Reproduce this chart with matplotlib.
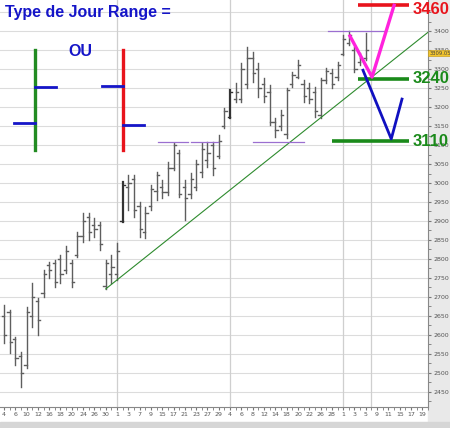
import matplotlib
matplotlib.use("Agg")
import matplotlib.pyplot as plt
from matplotlib.patches import Rectangle
import matplotlib.transforms as mtransforms

# ---------------- Data ----------------
highs = [2679, 2666, 2595, 2555, 2674, 2737, 2697, 2771, 2792, 2797,
         2810, 2834, 2797, 2871, 2921, 2921, 2908, 2897, 2797, 2810,
         2842, 3003, 3021, 3021, 2950, 2937, 2995, 3029, 3008, 3055,
         3105, 3087, 3008, 3026, 3061, 3105, 3108, 3108, 3126, 3197,
         3245, 3263, 3316, 3358, 3345, 3316, 3276, 3258, 3171, 3192,
         3250, 3292, 3324, 3271, 3263, 3253, 3276, 3303, 3300, 3318,
         3390, 3400, 3358, 3342, 3395]
lows = [2579, 2553, 2521, 2463, 2513, 2621, 2600, 2700, 2750, 2726,
        2737, 2763, 2726, 2805, 2845, 2850, 2858, 2824, 2721, 2737,
        2745, 2897, 2929, 2911, 2858, 2855, 2929, 2955, 2961, 2968,
        3034, 2963, 2903, 2961, 2982, 3016, 3042, 3021, 3066, 3145,
        3171, 3213, 3213, 3250, 3266, 3226, 3213, 3153, 3121, 3139,
        3118, 3253, 3276, 3213, 3210, 3174, 3171, 3263, 3250, 3271,
        3337, 3363, 3292, 3311, 3324]
opens = [2650, 2660, 2590, 2545, 2520, 2650, 2690, 2710, 2785, 2790,
         2800, 2770, 2790, 2810, 2860, 2910, 2890, 2890, 2730, 2760,
         2760, 2900, 2990, 3010, 2940, 2870, 2940, 2980, 2990, 2975,
         3040, 3080, 2990, 2970, 2990, 3030, 3060, 3100, 3070, 3150,
         3175, 3220, 3220, 3260, 3330, 3300, 3260, 3240, 3160, 3150,
         3130, 3260, 3280, 3260, 3250, 3240, 3180, 3270, 3290, 3280,
         3340, 3370, 3350, 3320, 3330]
closes = [2600, 2580, 2540, 2500, 2660, 2700, 2640, 2760, 2770, 2740,
          2760, 2820, 2740, 2860, 2900, 2870, 2880, 2840, 2790, 2780,
          2820, 2995, 3000, 2930, 2880, 2920, 2985, 3020, 2975, 3040,
          3100, 2970, 2960, 3010, 3050, 3090, 3080, 3040, 3110, 3190,
          3240, 3240, 3300, 3330, 3290, 3250, 3230, 3160, 3140, 3180,
          3245, 3285, 3310, 3230, 3220, 3190, 3270, 3295, 3260, 3310,
          3380, 3390, 3300, 3330, 3350]
thick_bars = [21, 40]

date_labels = ["4", "6", "10", "12", "16", "18", "20", "24", "26", "30",
               "1", "3", "7", "9", "15", "17", "21", "23", "27", "29",
               "4", "6", "8", "12", "14", "18", "20", "22", "26", "28",
               "1", "3", "5", "9", "11", "15", "17", "19"]
month_starts = [20, 40, 60, 65]

trend_days = [18, 75]
trend_prices = [2721, 3397]

# support / resistance segments: (day_start, day_end, price)
range_lines = [(27.3, 32.5, 3109), (33.0, 37.9, 3109),
               (44.1, 53.0, 3108), (57.4, 67.4, 3400)]

target_labels = ["3460", "3240", "3110"]
target_prices = [3468, 3274, 3110]
target_colors = ["#e8141c", "#1a8a1a", "#1a8a1a"]
target_starts = [62.7, 62.7, 58.0]

up_v_days = [61.2, 65.1, 69.0]
up_v_prices = [3387, 3279, 3468]
down_v_days = [63.5, 68.5, 70.4]
down_v_prices = [3297, 3116, 3221]

last_price = "3309.05"

# ---------------- Figure ----------------
W, H = 450, 428
fig = plt.figure(figsize=(W / 100, H / 100), dpi=100, facecolor="white")
ax = fig.add_axes([0, 21 / H, 428 / W, 1 - 21 / H])

# right price panel and bottom strip
fig.patches.append(Rectangle((428 / W, 6 / H), 22 / W, 1, transform=fig.transFigure,
                             color="#e9e9e9", zorder=-1))
fig.patches.append(Rectangle((0, 0), 1, 6 / H, transform=fig.transFigure,
                             color="#d6d6d6", zorder=-1))

ax.set_xlim(-0.7, 75.0)
ax.set_ylim(2410, 3482)

# grid
for p in range(2450, 3500, 50):
    ax.axhline(p, color="#dcdcdc", lw=0.8, zorder=0)
for d in month_starts:
    ax.axvline(d, color="#cfcfcf", lw=0.9, zorder=0)

# OHLC bars
for i in range(len(highs)):
    lw = 1.6 if i in thick_bars else 1.0
    col = "#333333" if i in thick_bars else "#5e5e5e"
    ax.plot([i, i], [lows[i], highs[i]], color=col, lw=lw, zorder=2)
    ax.plot([i - 0.4, i], [opens[i], opens[i]], color=col, lw=1.0, zorder=2)
    ax.plot([i, i + 0.4], [closes[i], closes[i]], color=col, lw=1.0, zorder=2)

# trend line
ax.plot(trend_days, trend_prices, color="#2e8b2e", lw=0.8, zorder=3)

# range lines
for d0, d1, p in range_lines:
    ax.plot([d0, d1], [p, p], color="#9b6fd0", lw=0.9, zorder=3)

# target levels
for lab, p, c, d0 in zip(target_labels, target_prices, target_colors, target_starts):
    ax.plot([d0, 71.7], [p, p], color=c, lw=2.6, zorder=4, solid_capstyle="butt")
    ax.text(72.2, min(p, 3456), lab, color=c, fontsize=12, fontweight="bold",
            family="Liberation Sans", va="center", ha="left", zorder=5, clip_on=False)

ax.plot(up_v_days, up_v_prices, color="#ff22dd", lw=2.4, zorder=4)
ax.plot(down_v_days, down_v_prices, color="#1010c0", lw=2.0, zorder=4)

# axes styling
for s in ["left", "top"]:
    ax.spines[s].set_visible(False)
ax.spines["right"].set_color("#888888")
ax.spines["bottom"].set_color("#888888")
ax.yaxis.tick_right()
ax.set_yticks(range(2450, 3450, 50))
ax.set_yticks(range(2425, 3475, 25), minor=True)
ax.tick_params(axis="y", which="both", direction="out", colors="#777777",
               labelsize=4.5, length=2.5, pad=1.5, labelcolor="#555555")
ax.set_xticks(range(0, 2 * len(date_labels), 2))
ax.set_xticklabels(date_labels)
ax.set_xticks(range(0, 76), minor=True)
ax.tick_params(axis="x", which="both", direction="out", colors="#777777",
               labelsize=4.5, length=2, pad=1.5, labelcolor="#555555")

# last price box
tr = mtransforms.blended_transform_factory(ax.transAxes, ax.transData)
ax.text(1.003, 3342, last_price, transform=tr, fontsize=3.8, va="center", ha="left",
        color="#444444", zorder=6, clip_on=False,
        bbox=dict(boxstyle="square,pad=0.15", fc="#f3c52c", ec="#c9a020", lw=0.5))


# ---------------- Legend glyph (figure pixels) ----------------
def fx(x):
    return x / W


def fy(y):
    return 1 - y / H


fig.text(fx(5), fy(13), "Type de Jour Range =", color="#1515c8", fontsize=11.5,
         fontweight="bold", family="Liberation Sans", va="center", ha="left")
fig.text(fx(68), fy(52), "OU", color="#1515c8", fontsize=11.5,
         fontweight="bold", family="Liberation Sans", va="center", ha="left")

glyphs = [(35, "#228b22", 87, 123), (123, "#e8141c", 125, 86)]
for gx, gc, y_right, y_left in glyphs:
    fig.add_artist(plt.Line2D([fx(gx), fx(gx)], [fy(50), fy(150)], color=gc, lw=2.4,
                              transform=fig.transFigure))
    fig.add_artist(plt.Line2D([fx(gx), fx(gx + 21)], [fy(y_right), fy(y_right)],
                              color="#1515c8", lw=2.0, transform=fig.transFigure))
    fig.add_artist(plt.Line2D([fx(gx - 21), fx(gx)], [fy(y_left), fy(y_left)],
                              color="#1515c8", lw=2.0, transform=fig.transFigure))

fig.savefig("out.png", dpi=100, facecolor=fig.get_facecolor())
